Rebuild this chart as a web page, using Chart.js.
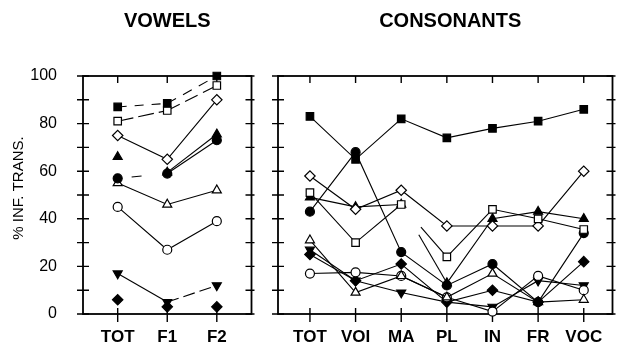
<!DOCTYPE html>
<html lang="en">
<head>
    <meta charset="UTF-8">
    <title>Vowels / Consonants</title>
    <style>
        body {
            margin: 0;
            background: #fff;
        }
        #wrap {
            position: relative;
            width: 619px;
            height: 350px;
        }
        canvas {
            position: absolute;
            top: 0;
        }
        #vowels { left: 0; }
        #consonants { left: 258px; }
    </style>
    <script src="https://cdn.jsdelivr.net/npm/chart.js"></script>
</head>
<body>

<div id="wrap">
    <canvas id="vowels" width="258" height="350"></canvas>
    <canvas id="consonants" width="361" height="350"></canvas>
</div>

<script>
    // Categories and axis ticks
    const vowelCats = ['TOT', 'F1', 'F2'];
    const consCats = ['TOT', 'VOI', 'MA', 'PL', 'IN', 'FR', 'VOC'];
    const yTicks = [0, 20, 40, 60, 80, 100];
    const minorStep = 10;

    // Vowels (% inf. trans.), one array per marker
    const vSqFill  = [87, 88.5, 100];
    const vSqOpen  = [81, 85.5, 96];
    const vDiaOpen = [75, 65, 90];
    const vTriFill = [66, 59.5, 75.5];
    const vCirFill = [57, 59, 73];
    const vTriOpen = [55, 46, 52];
    const vCirOpen = [45, 27, 39];
    const vTriDown = [17, 5, 12];
    const vDiaFill = [6, 3, 3];

    // Consonants
    const cSqFill  = [83, 65, 82, 74, 78, 81, 86];
    const cSqOpen  = [51, 30, 46, 24, 44, 40, 35.5];
    const cDiaOpen = [58, 44, 52, 37, 37, 37, 60];
    const cTriFill = [49, 45, 46, 13, 40, 43, 40];
    const cCirFill = [43, 68, 26, 12, 21, 5, 34];
    const cTriOpen = [31, 9, 16, 7, 17, 5, 6];
    const cCirOpen = [17, 17.5, 16, 7, 1, 16, 10];
    const cTriDown = [27, 14, 9, 5, 3, 14, 12];
    const cDiaFill = [25, 14, 21, 5, 10, 5, 22];

    const FONT = '"Liberation Sans", Arial, Helvetica, sans-serif';

    // Marker looks
    const marks = {
        sqFill:  { pointStyle: 'rect', radius: 5.3, fill: '#000' },
        sqOpen:  { pointStyle: 'rect', radius: 5.3, fill: '#fff' },
        diaOpen: { pointStyle: 'rectRot', radius: 5.2, fill: '#fff' },
        triFill: { pointStyle: 'triangle', radius: 5.2, fill: '#000' },
        cirFill: { pointStyle: 'circle', radius: 4.5, fill: '#000' },
        triOpen: { pointStyle: 'triangle', radius: 5.2, fill: '#fff' },
        cirOpen: { pointStyle: 'circle', radius: 4.5, fill: '#fff' },
        triDown: { pointStyle: 'triangle', radius: 5.2, fill: '#000', rotation: 180 },
        diaFill: { pointStyle: 'rectRot', radius: 5.2, fill: '#000' }
    };

    // seg: { hidden: [segment idx], dash: {idx: pattern}, noLine }
    function makeSet(values, key, seg) {
        seg = seg || {};
        const m = marks[key];
        const hidden = seg.hidden || [];
        const dash = seg.dash || {};
        return {
            data: values.map((v, i) => ({ x: i, y: v })),
            borderColor: '#000',
            borderWidth: 1.1,
            showLine: !seg.noLine,
            tension: 0,
            fill: false,
            clip: false,
            pointStyle: m.pointStyle,
            pointRadius: m.radius,
            pointHoverRadius: m.radius,
            pointRotation: m.rotation || 0,
            pointBackgroundColor: m.fill,
            pointBorderColor: '#000',
            pointBorderWidth: 1.2,
            segment: {
                borderColor: c => hidden.includes(c.p0DataIndex) ? 'rgba(0,0,0,0)' : undefined,
                borderDash: c => dash[c.p0DataIndex] || undefined
            }
        };
    }

    // Box, crossing tick marks, panel title and y title
    const framePlugin = {
        id: 'frame',
        beforeDatasetsDraw(chart, args, opts) {
            const { ctx, chartArea: a, scales: { x, y } } = chart;
            ctx.save();
            ctx.strokeStyle = '#000';
            ctx.lineWidth = 1.8;
            ctx.strokeRect(a.left, a.top, a.right - a.left, a.bottom - a.top);

            ctx.lineWidth = 1.4;
            ctx.beginPath();
            for (let v = y.min; v <= y.max; v += minorStep) {
                const py = y.getPixelForValue(v);
                ctx.moveTo(a.left - 6, py);
                ctx.lineTo(a.left + 6, py);
                ctx.moveTo(a.right - 6, py);
                ctx.lineTo(a.right + 3, py);
            }
            x.ticks.forEach(t => {
                const px = x.getPixelForValue(t.value);
                ctx.moveTo(px, a.bottom - 6);
                ctx.lineTo(px, a.bottom + 8);
                ctx.moveTo(px, a.top);
                ctx.lineTo(px, a.top + 7);
            });
            ctx.stroke();

            ctx.fillStyle = '#000';
            ctx.textAlign = 'center';
            ctx.textBaseline = 'middle';
            ctx.font = 'bold 20px ' + FONT;
            ctx.fillText(opts.title, (a.left + a.right) / 2 + (opts.dx || 0), 21);

            if (opts.yTitle) {
                ctx.translate(19, (a.top + a.bottom) / 2 - 7);
                ctx.rotate(-Math.PI / 2);
                ctx.font = '15px ' + FONT;
                ctx.fillText(opts.yTitle, 0, 0);
            }
            ctx.restore();
        }
    };

    function xScale(cats, min, max) {
        return {
            type: 'linear',
            min: min,
            max: max,
            grid: { display: false },
            border: { display: false },
            afterBuildTicks: s => { s.ticks = cats.map((c, i) => ({ value: i })); },
            afterFit: s => { s.height = 36; },
            ticks: {
                callback: v => cats[v],
                autoSkip: false,
                maxRotation: 0,
                padding: 5,
                color: '#000',
                font: { family: FONT, size: 17, weight: 'bold' }
            }
        };
    }

    function baseOptions(padding) {
        return {
            responsive: false,
            animation: false,
            layout: { padding: padding },
            plugins: {
                legend: { display: false },
                tooltip: { enabled: false }
            }
        };
    }

    // Vowels panel
    const vowelOpts = baseOptions({ top: 76, right: 5, bottom: 0, left: 0 });
    vowelOpts.plugins.frame = { title: 'VOWELS', yTitle: '% INF. TRANS.' };
    vowelOpts.scales = {
        x: xScale(vowelCats, -0.7, 2.7),
        y: {
            min: 0,
            max: 100,
            grid: { display: false },
            border: { display: false },
            afterBuildTicks: s => { s.ticks = yTicks.map(v => ({ value: v })); },
            afterFit: s => { s.width = 83; },
            ticks: {
                padding: 18,
                color: '#000',
                font: { family: FONT, size: 16 }
            }
        }
    };

    new Chart(document.getElementById('vowels'), {
        type: 'line',
        data: {
            datasets: [
                makeSet(vSqFill, 'sqFill', { dash: { 0: [9, 8], 1: [10, 8] } }),
                makeSet(vSqOpen, 'sqOpen', { dash: { 0: [16, 5], 1: [14, 6] } }),
                makeSet(vDiaOpen, 'diaOpen'),
                makeSet(vTriFill, 'triFill', { hidden: [0] }),
                makeSet(vCirFill, 'cirFill', { dash: { 0: [0, 14, 10, 40] } }),
                makeSet(vTriOpen, 'triOpen'),
                makeSet(vCirOpen, 'cirOpen'),
                makeSet(vTriDown, 'triDown', { dash: { 1: [12, 5] } }),
                makeSet(vDiaFill, 'diaFill', { noLine: true })
            ]
        },
        options: vowelOpts,
        plugins: [framePlugin]
    });

    // Consonants panel
    const consOpts = baseOptions({ top: 76, right: 3, bottom: 0, left: 20 });
    consOpts.plugins.frame = { title: 'CONSONANTS', dx: 5 };
    consOpts.scales = {
        x: xScale(consCats, -0.7, 6.63),
        y: { display: false, min: 0, max: 100 }
    };

    new Chart(document.getElementById('consonants'), {
        type: 'line',
        data: {
            datasets: [
                makeSet(cSqFill, 'sqFill'),
                makeSet(cSqOpen, 'sqOpen', { dash: { 2: [0, 30, 300] } }),
                makeSet(cDiaOpen, 'diaOpen'),
                makeSet(cTriFill, 'triFill', { dash: { 2: [0, 35, 300] } }),
                makeSet(cCirFill, 'cirFill'),
                makeSet(cTriOpen, 'triOpen'),
                makeSet(cCirOpen, 'cirOpen'),
                makeSet(cTriDown, 'triDown'),
                makeSet(cDiaFill, 'diaFill')
            ]
        },
        options: consOpts,
        plugins: [framePlugin]
    });
</script>

</body>
</html>
